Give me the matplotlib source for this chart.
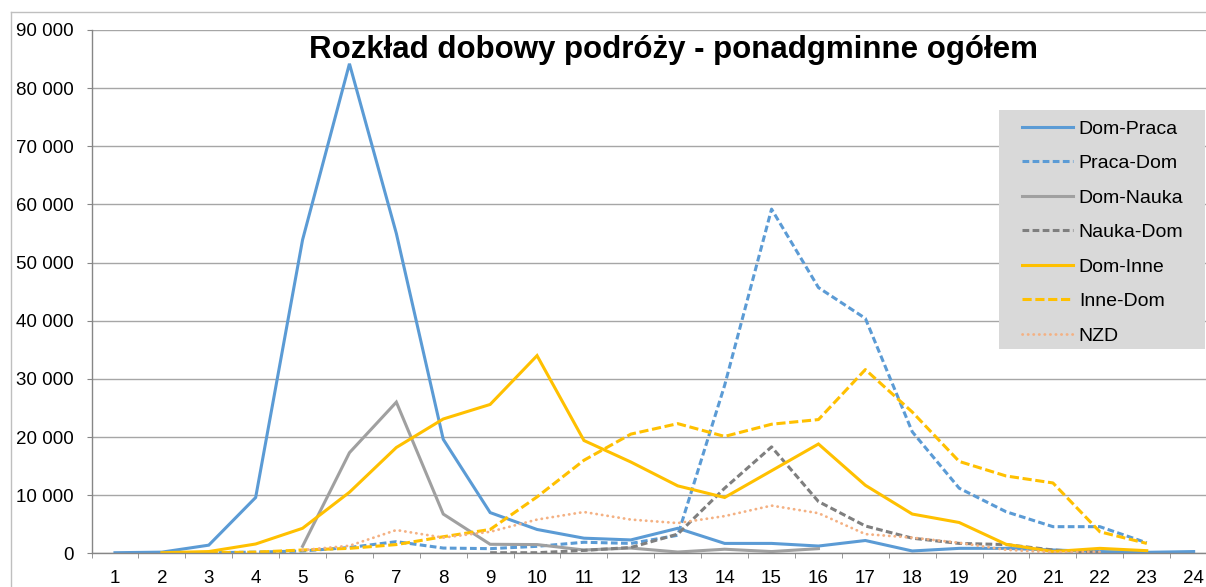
import matplotlib

matplotlib.use("Agg")
import matplotlib.pyplot as plt
import numpy as np
from matplotlib.lines import Line2D
from matplotlib.ticker import FuncFormatter

nan = np.nan

hours = list(range(1, 25))

dom_praca = [100, 200, 1400, 9600, 53900, 84200, 55000, 19600, 7000, 4100, 2600, 2300,
             4300, 1700, 1700, 1250, 2200, 400, 850, 850, 570, 300, 170, 300]
praca_dom = [nan, nan, 100, 200, 400, 1000, 2000, 900, 800, 1200, 1900, 1700,
             3100, 28900, 59200, 45700, 40400, 20900, 11200, 7150, 4580, 4580, 1800, nan]
dom_nauka = [nan, nan, nan, nan, 1200, 17300, 26000, 6750, 1550, 1500, 570, 900,
             220, 700, 300, 800, nan, nan, nan, nan, nan, nan, nan, nan]
nauka_dom = [nan, nan, nan, nan, nan, nan, nan, nan, 100, 100, 500, 1000,
             3300, 11200, 18300, 8900, 4700, 2600, 1700, 1500, 570, 100, nan, nan]
dom_inne = [nan, 100, 300, 1600, 4300, 10500, 18200, 23100, 25600, 34000, 19400, 15700,
            11600, 9600, 14200, 18800, 11700, 6750, 5300, 1550, 300, 850, 450, nan]
inne_dom = [nan, nan, 100, 200, 570, 850, 1500, 2850, 4100, 9700, 16000, 20500,
            22300, 20100, 22200, 23000, 31600, 24300, 15800, 13300, 12100, 3700, 1700, nan]
nzd = [nan, nan, nan, nan, 550, 1300, 4000, 2700, 3700, 5800, 7100, 5800,
       5200, 6400, 8200, 6900, 3300, 2700, 1800, 600, 170, 250, nan, nan]

series_names = ["Dom-Praca", "Praca-Dom", "Dom-Nauka", "Nauka-Dom", "Dom-Inne", "Inne-Dom", "NZD"]
series_values = [dom_praca, praca_dom, dom_nauka, nauka_dom, dom_inne, inne_dom, nzd]

title = "Rozkład dobowy podróży - ponadgminne ogółem"

BLUE = "#5B9BD5"
GRAY = "#A0A0A0"
DARK_GRAY = "#7F7F7F"
YELLOW = "#FFC000"
SALMON = "#F4B183"
AXIS = "#868686"

styles = [
    dict(color=BLUE, lw=2.2, ls="-"),
    dict(color=BLUE, lw=2.2, ls=(0, (2.2, 1.1))),
    dict(color=GRAY, lw=2.2, ls="-"),
    dict(color=DARK_GRAY, lw=2.2, ls=(0, (2.2, 1.1))),
    dict(color=YELLOW, lw=2.2, ls="-"),
    dict(color=YELLOW, lw=2.2, ls=(0, (3.0, 1.2))),
    dict(color=SALMON, lw=2.0, ls=(0, (0.1, 1.9)), dash_capstyle="round"),
]

plt.rcParams["font.family"] = ["Liberation Sans", "DejaVu Sans"]

W, H = 1206, 587
fig = plt.figure(figsize=(W / 100, H / 100), dpi=100)
fig.patch.set_facecolor("white")

# axes in pixel coordinates: x 0.5 -> 91.5px, 24.5 -> 1217px; y 0 -> 553px, 90000 -> 30px
ax_left, ax_right, ax_bottom, ax_top = 91.5, 1217.1, 553.3, 30.0
ax = fig.add_axes([ax_left / W, 1 - ax_bottom / H, (ax_right - ax_left) / W, (ax_bottom - ax_top) / H])

handles = []
for name, values, st in zip(series_names, series_values, styles):
    (line,) = ax.plot(hours, values, label=name, solid_joinstyle="miter", **st)
    handles.append(line)

ax.set_xlim(0.5, 24.5)
ax.set_ylim(0, 90000)
ax.set_yticks(np.arange(0, 90001, 10000))
ax.yaxis.set_major_formatter(FuncFormatter(lambda v, _: f"{int(v):,}".replace(",", " ")))
ax.set_xticks(hours)
ax.set_xticks(np.arange(0.5, 25, 1), minor=True)

ax.grid(axis="y", color="#A6A6A6", lw=1.0)
ax.set_axisbelow(True)
for side in ("top", "right"):
    ax.spines[side].set_visible(False)
for side in ("left", "bottom"):
    ax.spines[side].set_color(AXIS)
    ax.spines[side].set_linewidth(1.0)

ax.tick_params(axis="y", length=3.6, color=AXIS, labelsize=13.5, pad=9)
ax.tick_params(axis="x", which="major", length=0, labelsize=13.5, pad=12)
ax.tick_params(axis="x", which="minor", length=3.6, color=AXIS)

fig.text(673.5 / W, 1 - 50 / H, title, ha="center", va="center", fontsize=22.5, fontweight="bold")

# outer chart border
fig.add_artist(Line2D([11 / W, 11 / W], [0, 1 - 12 / H], color="#BFBFBF", lw=1.0))
fig.add_artist(Line2D([11 / W, 1], [1 - 12 / H, 1 - 12 / H], color="#BFBFBF", lw=1.0))

# legend background box
fig.add_artist(plt.Rectangle((999 / W, 1 - 349 / H), 206 / W, 239 / H,
                             transform=fig.transFigure, facecolor="#D9D9D9", edgecolor="none", zorder=3))
fig.legend(handles=handles, loc="upper left", bbox_to_anchor=(1022 / W, 1 - 120 / H),
           frameon=False, fontsize=14, handlelength=2.62, handletextpad=0.3,
           labelspacing=0.87, borderaxespad=0, borderpad=0)

fig.savefig("out.png", dpi=100)
